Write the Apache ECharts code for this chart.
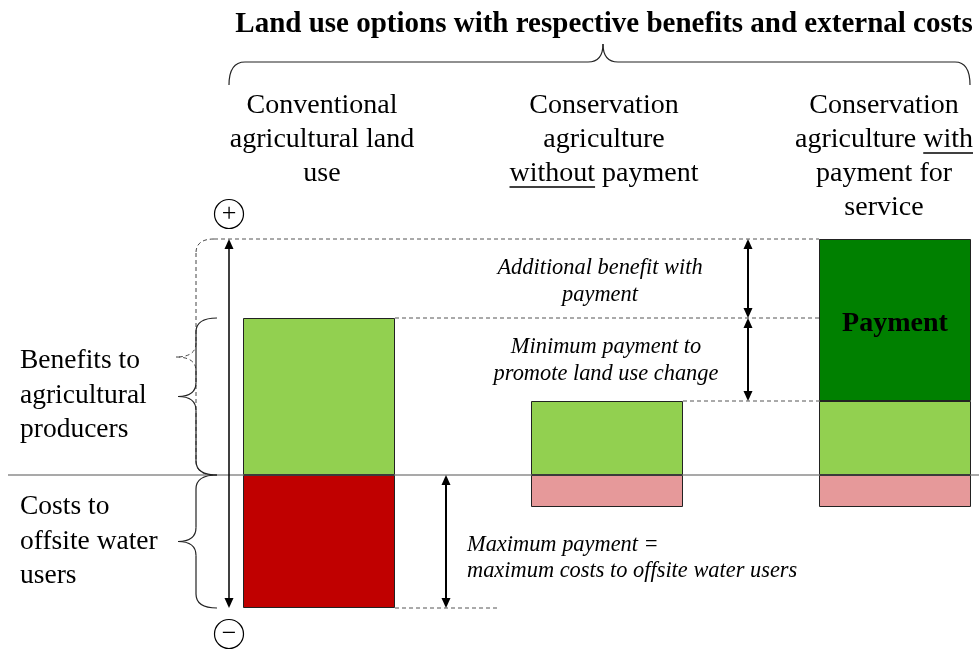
<!DOCTYPE html>
<html>
<head>
<meta charset="utf-8">
<script src="https://cdn.jsdelivr.net/npm/echarts@6/dist/echarts.min.js"></script>
<style>
  html, body { margin: 0; padding: 0; background: #fff; }
  #chart { width: 979px; height: 652px; }
</style>
</head>
<body>
<div id="chart"></div>
<script>
// land use options (columns)
const categories = [
  ['Conventional', 'agricultural land', 'use'],
  ['Conservation', 'agriculture', 'without payment'],
  ['Conservation', 'agriculture with', 'payment for', 'service'],
]
// benefits to producers (positive) and offsite costs (negative), arbitrary units
const benefits = [157, 74, 74]
const payment = ['-', '-', 162]
const costs = [-133, -32, -32]
const benefitColors = ['#92D050', '#92D050', '#92D050']
const costColors = ['#C00000', '#E6999A', '#E6999A']

const serif = '"Liberation Serif", "DejaVu Serif", serif'
const chart = echarts.init(document.getElementById('chart'))

const barW = 152
chart.setOption({
  animation: false,
  grid: { left: 319, right: 84, top: 225, bottom: 27 },
  xAxis: { type: 'category', boundaryGap: false, data: ['a', 'b', 'c'], show: false },
  yAxis: { type: 'value', min: -150, max: 250, show: false },
  series: [
    {
      name: 'Benefits', type: 'bar', stack: 's', barWidth: barW,
      itemStyle: { borderColor: '#222', borderWidth: 1 },
      data: benefits.map((v, i) => ({ value: v, itemStyle: { color: benefitColors[i] } })),
    },
    {
      name: 'Payment', type: 'bar', stack: 's', barWidth: barW,
      itemStyle: { color: '#008000', borderColor: '#222', borderWidth: 1 },
      label: {
        show: true, position: 'inside', formatter: 'Payment', offset: [0, 4],
        color: '#000', fontFamily: serif, fontWeight: 'bold', fontSize: 28,
      },
      data: payment,
    },
    {
      name: 'Costs', type: 'bar', stack: 's', barWidth: barW,
      itemStyle: { borderColor: '#222', borderWidth: 1 },
      data: costs.map((v, i) => ({ value: v, itemStyle: { color: costColors[i] } })),
    },
  ],
})

// annotation layer, positioned from the data through the axes
const P = (x, y) => chart.convertToPixel({ gridIndex: 0 }, [x, y])
const y0 = P(0, 0)[1]
const yTop = P(2, benefits[2] + payment[2])[1]
const yConv = P(0, benefits[0])[1]
const yCons = P(1, benefits[1])[1]
const yCost = P(0, costs[0])[1]
const cx = [0, 1, 2].map((i) => P(i, 0)[0])
const left = cx.map((c) => c - barW / 2)
const right = cx.map((c) => c + barW / 2)

const ctx = document.createElement('canvas').getContext('2d')
function textW(t, font) {
  ctx.font = font
  return ctx.measureText(t).width
}

const g = []
const dash = { stroke: '#555', lineWidth: 1, lineDash: [4, 3] }
function line(x1, y1, x2, y2, style) {
  g.push({ type: 'line', shape: { x1: x1, y1: y1, x2: x2, y2: y2 }, style: style, z: 5 })
}
function hline(x1, x2, y, style) {
  line(x1, y, x2, y, style)
}
function curve(x1, y1, cpx, cpy, x2, y2, style) {
  g.push({
    type: 'bezierCurve', z: 5,
    shape: { x1: x1, y1: y1, cpx1: cpx, cpy1: cpy, x2: x2, y2: y2 },
    style: Object.assign({ fill: null }, style),
  })
}
function arrow(x, y1, y2, w) {
  const h = 10, hw = 4.5
  line(x, y1 + 3, x, y2 - 3, { stroke: '#000', lineWidth: w })
  g.push({ type: 'polygon', shape: { points: [[x, y1], [x - hw, y1 + h], [x + hw, y1 + h]] }, style: { fill: '#000' }, z: 6 })
  g.push({ type: 'polygon', shape: { points: [[x, y2], [x - hw, y2 - h], [x + hw, y2 - h]] }, style: { fill: '#000' }, z: 6 })
}
function brace(x, ya, yb, tipX, endX, style) {
  const ym = (ya + yb) / 2
  const r = 14
  curve(endX, ya, x, ya, x, ya + r, style)
  line(x, ya + r, x, ym - r, style)
  curve(x, ym - r, x, ym, tipX, ym, style)
  curve(tipX, ym, x, ym, x, ym + r, style)
  line(x, ym + r, x, yb - r, style)
  curve(x, yb - r, x, yb, endX, yb, style)
}
function text(t, x, y, font, align) {
  g.push({
    type: 'text', x: x, y: y, z: 7,
    style: { text: t, font: font, fill: '#000', textAlign: align || 'center', textVerticalAlign: 'middle' },
  })
}

// baseline
hline(8, 979, y0, { stroke: '#555', lineWidth: 1.2 })
// dashed guides
hline(214, left[2], yTop, dash)
hline(right[0], left[2], yConv, dash)
hline(right[1], left[2], yCons, dash)
hline(right[0], right[0] + 102, yCost, dash)

// value arrows
arrow(229, yTop, yCost, 1.5)
arrow(748, yTop, yConv, 2)
arrow(748, yConv, yCons, 2)
arrow(446, y0, yCost, 2)

// left braces
brace(196, yTop, y0, 176, 214, { stroke: '#444', lineWidth: 1, lineDash: [4, 3] })
brace(196, yConv, y0, 178, 217, { stroke: '#222', lineWidth: 1.2 })
brace(196, y0, yCost, 178, 217, { stroke: '#222', lineWidth: 1.2 })

// plus / minus markers
g.push({ type: 'circle', shape: { cx: 229, cy: 214, r: 14.5 }, style: { fill: '#fff', stroke: '#000', lineWidth: 1.2 }, z: 6 })
text('+', 229, 214, '26px ' + serif)
g.push({ type: 'circle', shape: { cx: 229, cy: 634, r: 14.5 }, style: { fill: '#fff', stroke: '#000', lineWidth: 1.2 }, z: 6 })
text('\u2212', 229, 634, '26px ' + serif)

// title and top brace
const titleFont = 'bold 29px ' + serif
text('Land use options with respective benefits and external costs', 604, 25, titleFont)
const bs = { stroke: '#222', lineWidth: 1.2 }
curve(229, 85, 229, 62, 245, 62, bs)
hline(245, 588, 62, bs)
curve(588, 62, 603, 62, 603, 44, bs)
curve(603, 44, 603, 62, 618, 62, bs)
hline(618, 955, 62, bs)
curve(955, 62, 970, 62, 970, 85, bs)

// column headings
const headFont = '28px ' + serif
const headX = [322, 604, 884]
categories.forEach((lines, i) => {
  lines.forEach((t, j) => text(t, headX[i], 106 + j * 34, headFont))
})
function underline(ln, word, prefix, cxp, y) {
  const w = textW(ln, headFont)
  const s = cxp - w / 2 + textW(prefix, headFont)
  hline(s, s + textW(word, headFont), y, { stroke: '#000', lineWidth: 1.5 })
}
underline('without payment', 'without', '', headX[1], 174 + 13)
underline('agriculture with', 'with', 'agriculture ', headX[2], 140 + 13)

// left labels
const sideFont = '27.5px ' + serif
;['Benefits to', 'agricultural', 'producers'].forEach((t, j) => text(t, 20, 361 + j * 34.5, sideFont, 'left'))
;['Costs to', 'offsite water', 'users'].forEach((t, j) => text(t, 20, 507 + j * 34.5, sideFont, 'left'))

// italic notes
const noteFont = 'italic 22.4px ' + serif
text('Additional benefit with', 600, 268, noteFont)
text('payment', 600, 295, noteFont)
text('Minimum payment to', 606, 347, noteFont)
text('promote land use change', 606, 374, noteFont)
text('Maximum payment =', 467, 545, noteFont, 'left')
text('maximum costs to offsite water users', 467, 571, noteFont, 'left')

chart.setOption({ graphic: { elements: g } })
window.addEventListener('resize', chart.resize)
</script>
</body>
</html>
